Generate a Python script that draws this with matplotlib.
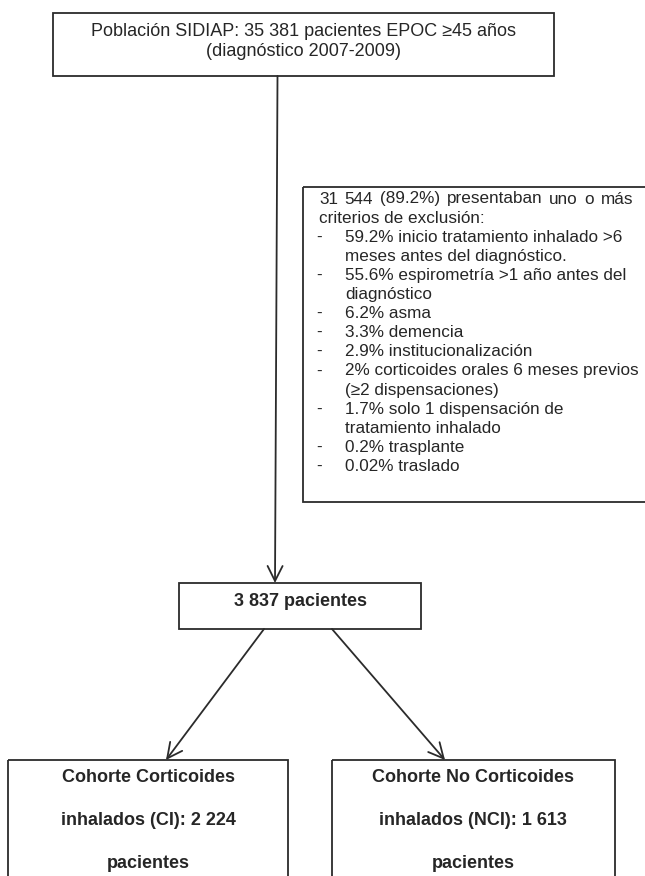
import matplotlib
matplotlib.use("Agg")
import matplotlib.pyplot as plt
from matplotlib.font_manager import FontProperties
from matplotlib.patches import Rectangle

plt.rcParams["font.family"] = ["Liberation Sans", "DejaVu Sans"]

# flowchart content
top_lines = ["Población SIDIAP: 35 381 pacientes EPOC ≥45 años",
             "(diagnóstico 2007-2009)"]
excl_header = ["31 544 (89.2%) presentaban uno o más",
               "criterios de exclusión:"]
excl_items = [
    ["59.2% inicio tratamiento inhalado >6", "meses antes del diagnóstico."],
    ["55.6% espirometría >1 año antes del", "diagnóstico"],
    ["6.2% asma"],
    ["3.3% demencia"],
    ["2.9% institucionalización"],
    ["2% corticoides orales 6 meses previos", "(≥2 dispensaciones)"],
    ["1.7% solo 1 dispensación de", "tratamiento inhalado"],
    ["0.2% trasplante"],
    ["0.02% traslado"],
]
middle_text = "3 837 pacientes"
cohort_ci = ["Cohorte Corticoides", "inhalados (CI): 2 224", "pacientes"]
cohort_nci = ["Cohorte No Corticoides", "inhalados (NCI): 1 613", "pacientes"]

W, H = 645, 876
fig = plt.figure(figsize=(W / 100, H / 100), dpi=100)
ax = fig.add_axes([0, 0, 1, 1])
ax.set_xlim(0, W)
ax.set_ylim(H, 0)
ax.axis("off")

LC = "#2b2b2b"
TC = "#262626"
LW = 1.3


def box(x0, y0, x1, y1):
    ax.add_patch(Rectangle((x0, y0), x1 - x0, y1 - y0, fill=False,
                           edgecolor=LC, linewidth=LW, clip_on=False))


def arrow(start, end):
    ax.annotate("", xy=end, xytext=start,
                arrowprops=dict(arrowstyle="->,head_length=0.9,head_width=0.45",
                                color=LC, lw=LW, shrinkA=0, shrinkB=0,
                                mutation_scale=12))


# top box
box(53, 13, 554, 76)
for i, line in enumerate(top_lines):
    ax.text(303.5, 31 + i * 20.5, line, ha="center", va="center",
            fontsize=13, color=TC)

# exclusion box (runs off the right edge)
box(303, 187, 660, 502)
fs = 12.3
step = 19.1
y = 199

# first line is justified in the original
renderer = fig.canvas.get_renderer()
fp = FontProperties(family=["Liberation Sans", "DejaVu Sans"], size=fs)
words = excl_header[0].split()
widths = [renderer.get_text_width_height_descent(w, fp, ismath=False)[0]
          for w in words]
left, right = 319, 633
gap = (right - left - sum(widths)) / (len(words) - 1)
x = left
for w, wd in zip(words, widths):
    ax.text(x, y, w, ha="left", va="center", fontsize=fs, color=TC)
    x += wd + gap
y += step
ax.text(319, y, excl_header[1], ha="left", va="center", fontsize=fs, color=TC)
y += step
for item in excl_items:
    ax.text(316, y, "-", ha="left", va="center", fontsize=fs, color=TC)
    for line in item:
        ax.text(345, y, line, ha="left", va="center", fontsize=fs, color=TC)
        y += step

# main vertical arrow
arrow((277.5, 76), (275, 583))

# middle box
box(179, 583, 421, 629)
ax.text(300, 601, middle_text, ha="center", va="center", fontsize=13,
        fontweight="bold", color=TC)

# branches
arrow((264, 629), (166, 760))
arrow((332, 629), (445, 760))

# cohort boxes (cut off at the bottom)
box(8, 760, 288, 900)
box(332, 760, 615, 900)
for cx, lines in [(148, cohort_ci), (473, cohort_nci)]:
    for i, line in enumerate(lines):
        ax.text(cx, 778 + i * 42.5, line, ha="center", va="center",
                fontsize=13, fontweight="bold", color=TC)

fig.savefig("out.png", dpi=100)
